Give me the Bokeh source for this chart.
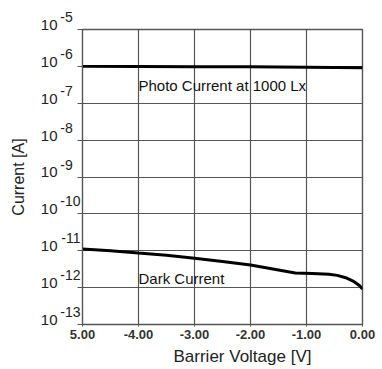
from bokeh.plotting import figure
from bokeh.models import FixedTicker, Label, CustomJSTickFormatter, LogAxis, Title
from bokeh.embed import file_html
from bokeh.resources import INLINE

# ---- data ----
voltage_photo = [-5.0, -4.0, -3.0, -2.0, -1.0, 0.0]
current_photo = [1.0e-6, 0.99e-6, 0.98e-6, 0.97e-6, 0.95e-6, 0.92e-6]

voltage_dark = [-5.0, -4.5, -4.0, -3.5, -3.0, -2.5, -2.0, -1.6, -1.2, -0.9,
                -0.6, -0.45, -0.3, -0.15, -0.05, 0.0]
current_dark = [1.12e-11, 1.0e-11, 8.7e-12, 7.6e-12, 6.3e-12, 5.1e-12, 4.1e-12,
                3.2e-12, 2.5e-12, 2.4e-12, 2.3e-12, 2.15e-12, 1.86e-12,
                1.45e-12, 1.12e-12, 9.1e-13]

x_ticks = [-5, -4, -3, -2, -1, 0]
x_tick_labels = ["5.00", "-4.00", "-3.00", "-2.00", "-1.00", "0.00"]

y_ticks = [1e-13, 1e-12, 1e-11, 1e-10, 1e-9, 1e-8, 1e-7, 1e-6, 1e-5]
y_tick_base = "10"
y_tick_exponents = ["-13", "-12", "-11", "-10", "-9", "-8", "-7", "-6", "-5"]

x_title = "Barrier Voltage [V]"
y_title = "Current [A]"
photo_label = "Photo Current at 1000 Lx"
dark_label = "Dark Current"

FONT = "Liberation Sans"
GRID = "#555555"
TXT = "#222222"

p = figure(width=380, height=369, x_range=(-5, 0), y_range=(1e-13, 1e-5),
           y_axis_type="log", output_backend="svg", toolbar_location=None,
           min_border_left=82, min_border_right=18, min_border_top=29,
           min_border_bottom=45)
p.background_fill_color = "white"
p.border_fill_color = "white"
p.outline_line_color = GRID
p.outline_line_width = 1.4

# grid
p.xgrid.ticker = FixedTicker(ticks=x_ticks)
p.ygrid.ticker = FixedTicker(ticks=y_ticks)
p.xgrid.grid_line_color = GRID
p.ygrid.grid_line_color = GRID
p.xgrid.grid_line_width = 1.2
p.ygrid.grid_line_width = 1.2

# x axis
p.xaxis.ticker = FixedTicker(ticks=x_ticks)
p.xaxis.major_label_overrides = {t: s for t, s in zip(x_ticks, x_tick_labels)}
p.xaxis.major_label_text_font = FONT
p.xaxis.major_label_text_font_style = "bold"
p.xaxis.major_label_text_font_size = "13px"
p.xaxis.major_label_text_color = "#333333"
p.xaxis.major_label_standoff = 3
p.xaxis.major_tick_out = 2
p.xaxis.major_tick_in = 0
p.xaxis.minor_tick_line_color = None
p.xaxis.axis_line_color = GRID
p.xaxis.major_tick_line_color = GRID

# inner left axis: ticks + exponents (raised via trailing blank lines)
pick = """
let best = 0, d = Infinity;
for (let i = 0; i < yt.length; i++) {
  const dd = Math.abs(Math.log10(yt[i]) - Math.log10(tick));
  if (dd < d) { d = dd; best = i; }
}
"""
ya = p.yaxis[0]
ya.ticker = FixedTicker(ticks=y_ticks)
ya.formatter = CustomJSTickFormatter(
    args=dict(yt=y_ticks, labs=y_tick_exponents),
    code=pick + "const s = labs[best]; return (s.length < 3 ? s + '\\u2007' : s) + '\\n\\n';")
ya.major_label_text_font = FONT
ya.major_label_text_font_size = "14px"
ya.major_label_text_line_height = 0.78
ya.major_label_text_color = TXT
ya.major_label_standoff = -3
ya.major_tick_out = 5
ya.major_tick_in = 0
ya.minor_tick_line_color = None
ya.axis_line_color = GRID
ya.major_tick_line_color = GRID

# outer left axis: base "10" + axis title
yb = LogAxis(ticker=FixedTicker(ticks=y_ticks),
             formatter=CustomJSTickFormatter(args=dict(base=y_tick_base),
                                             code="return base + '\\n';"))
yb.major_label_text_font = FONT
yb.major_label_text_font_size = "15px"
yb.major_label_text_line_height = 0.6
yb.major_label_text_color = TXT
yb.major_label_standoff = 0
yb.major_tick_out = 0
yb.major_tick_in = 0
yb.minor_tick_line_color = None
yb.axis_line_color = None
yb.axis_label = y_title
yb.axis_label_text_font = FONT
yb.axis_label_text_font_size = "16px"
yb.axis_label_text_font_style = "normal"
yb.axis_label_text_color = TXT
yb.axis_label_standoff = 11
p.add_layout(yb, "left")

# x title
p.add_layout(Title(text=x_title, align="left", offset=91, text_font=FONT,
                   text_font_size="17px", text_font_style="normal",
                   text_color=TXT, standoff=6), "below")

# curves
p.line(voltage_photo, current_photo, line_color="black", line_width=3)
p.line(voltage_dark, current_dark, line_color="black", line_width=3)

# curve annotations
p.add_layout(Label(x=-4.0, y=10 ** -6.52, text=photo_label, text_align="left",
                   text_baseline="alphabetic", text_font=FONT,
                   text_font_size="15px", text_color="#111111"))
p.add_layout(Label(x=-4.0, y=10 ** -11.76, text=dark_label, text_align="left",
                   text_baseline="alphabetic", text_font=FONT,
                   text_font_size="15px", text_color="#111111"))

open("out.html", "w").write(file_html(p, INLINE))
